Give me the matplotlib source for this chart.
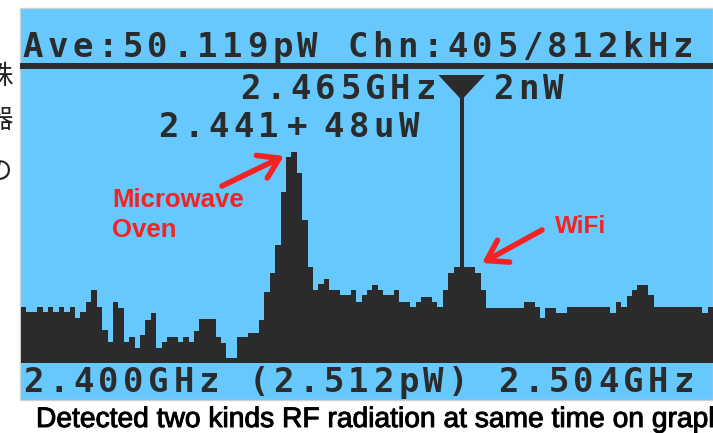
import matplotlib
matplotlib.use("Agg")
import matplotlib.pyplot as plt
import matplotlib.patheffects as pe
from matplotlib.patches import Rectangle, Polygon
import numpy as np

# spectrum level per display channel (128 channels of 812 kHz, 2.400-2.504 GHz)
levels = [
    11.2, 10.2, 10.2, 11.2, 10.2, 11.2, 10.2, 11.2, 10.2, 11.2,
    9.0, 10.2, 12.2, 14.6, 11.2, 6.6, 4.2, 12.2, 11.0, 4.2,
    5.2, 3.0, 5.6, 8.6, 10.0, 3.0, 4.2, 5.2, 5.2, 4.2,
    5.2, 4.2, 6.4, 8.8, 8.8, 8.8, 5.2, 4.0, 1.0, 1.0,
    5.2, 5.2, 6.0, 6.0, 8.6, 14.2, 18.0, 23.6, 34.2, 41.2,
    42.2, 38.0, 28.6, 19.2, 14.6, 15.8, 16.8, 14.6, 14.6, 13.6,
    13.6, 14.6, 12.2, 13.6, 14.6, 15.6, 14.6, 13.6, 13.6, 14.6,
    12.2, 12.2, 11.2, 12.2, 13.2, 13.2, 12.2, 11.2, 14.6, 18.0,
    19.2, 19.2, 19.2, 19.2, 18.0, 14.6, 11.0, 11.0, 11.0, 11.0,
    11.0, 11.0, 11.0, 12.2, 12.2, 11.2, 9.0, 11.0, 11.0, 10.0,
    10.0, 11.2, 11.2, 11.2, 11.2, 11.2, 11.2, 11.2, 11.2, 10.0,
    12.2, 11.2, 13.4, 14.6, 15.6, 15.6, 13.6, 11.2, 11.2, 11.2,
    11.2, 11.2, 11.2, 11.2, 11.2, 11.2, 10.0, 11.2,
]
marker_channel = 81.5

header_text = "Ave:50.119pW Chn:405/812kHz"
marker_freq = "2.465GHz"
marker_power = "2nW"
peak_freq = "2.441"
peak_power = "48uW"
footer_text = "2.400GHz (2.512pW) 2.504GHz"
caption = "Detected two kinds RF radiation at same time on graph"
side_chars = ["株", "器", "の", "、"]

W, H = 713, 433
LCD_BLUE = "#66c8fc"
INK = "#2b2b2b"
RED = "#f52222"
PITCH = 25.0  # width of one lcd character cell, px

fig = plt.figure(figsize=(W / 100, H / 100), dpi=100)
fig.patch.set_facecolor("white")

# background / lcd panel (pixel coordinates)
bg = fig.add_axes([0, 0, 1, 1])
bg.set_xlim(0, W)
bg.set_ylim(H, 0)
bg.axis("off")
bg.add_patch(Rectangle((20, 8), W - 20, 392, facecolor=LCD_BLUE,
                       edgecolor="#c9d3d3", lw=1))
bg.plot([20, W], [66, 66], color=INK, lw=4.3, solid_capstyle="butt")

# spectrum
n = len(levels)
ax = fig.add_axes([21 / W, (H - 363) / H, 692 / W, 295 / H])
ax.set_xlim(0, n)
ax.set_ylim(0, 59)
ax.axis("off")
ax.stairs(levels, np.arange(n + 1), baseline=0, fill=True, color=INK)

# marker
mc = marker_channel
ax.add_patch(Polygon([(mc - 4.3, 57.6), (mc + 4.3, 57.6), (mc, 52.6)],
                     closed=True, facecolor=INK, edgecolor="none"))
ax.plot([mc, mc], [54, levels[int(mc)]], color=INK, lw=2.9,
        solid_capstyle="butt")

# overlay for texts and arrows
top = fig.add_axes([0, 0, 1, 1])
top.set_xlim(0, W)
top.set_ylim(H, 0)
top.axis("off")


def lcd_text(x, y, s):
    # fixed pitch like the lcd font; x = centre of first cell, y = baseline
    for i, ch in enumerate(s):
        if ch != " ":
            top.text(x + i * PITCH, y, ch, ha="center", va="baseline",
                     family="DejaVu Sans Mono", weight="bold", size=24.5,
                     color=INK)


lcd_text(32.5, 57, header_text)
lcd_text(250.5, 99, marker_freq)
lcd_text(503, 99, marker_power)
lcd_text(168.5, 137, peak_freq)
lcd_text(297.5, 137, "+")
lcd_text(334, 137, peak_power)
lcd_text(33.5, 392, footer_text)

red_font = dict(family="Liberation Sans", weight="bold", color=RED)
top.text(112, 207, "Microwave", fontsize=18.5, va="baseline", **red_font)
top.text(112, 237, "Oven", fontsize=18.5, va="baseline", **red_font)
top.text(555, 233, "WiFi", fontsize=17.5, va="baseline", **red_font)

arrow = dict(arrowstyle="->,head_length=0.7,head_width=0.45", color=RED,
             lw=4, mutation_scale=20, shrinkA=0, shrinkB=0)
top.annotate("", xy=(284, 156), xytext=(222, 186), arrowprops=arrow)
top.annotate("", xy=(482, 263), xytext=(542, 230), arrowprops=arrow)

top.text(36, 427, caption, ha="left", va="baseline", fontsize=20.3,
         family="Liberation Sans", color="black",
         path_effects=[pe.withStroke(linewidth=0.7, foreground="black")])

for ch, yc in zip(side_chars, [76, 120, 172, 226]):
    top.text(-1, yc, ch, ha="center", va="center", fontsize=19,
             family=["Noto Sans CJK JP", "DejaVu Sans"], color="#222222")

fig.savefig("out.png", dpi=100, facecolor="white")
